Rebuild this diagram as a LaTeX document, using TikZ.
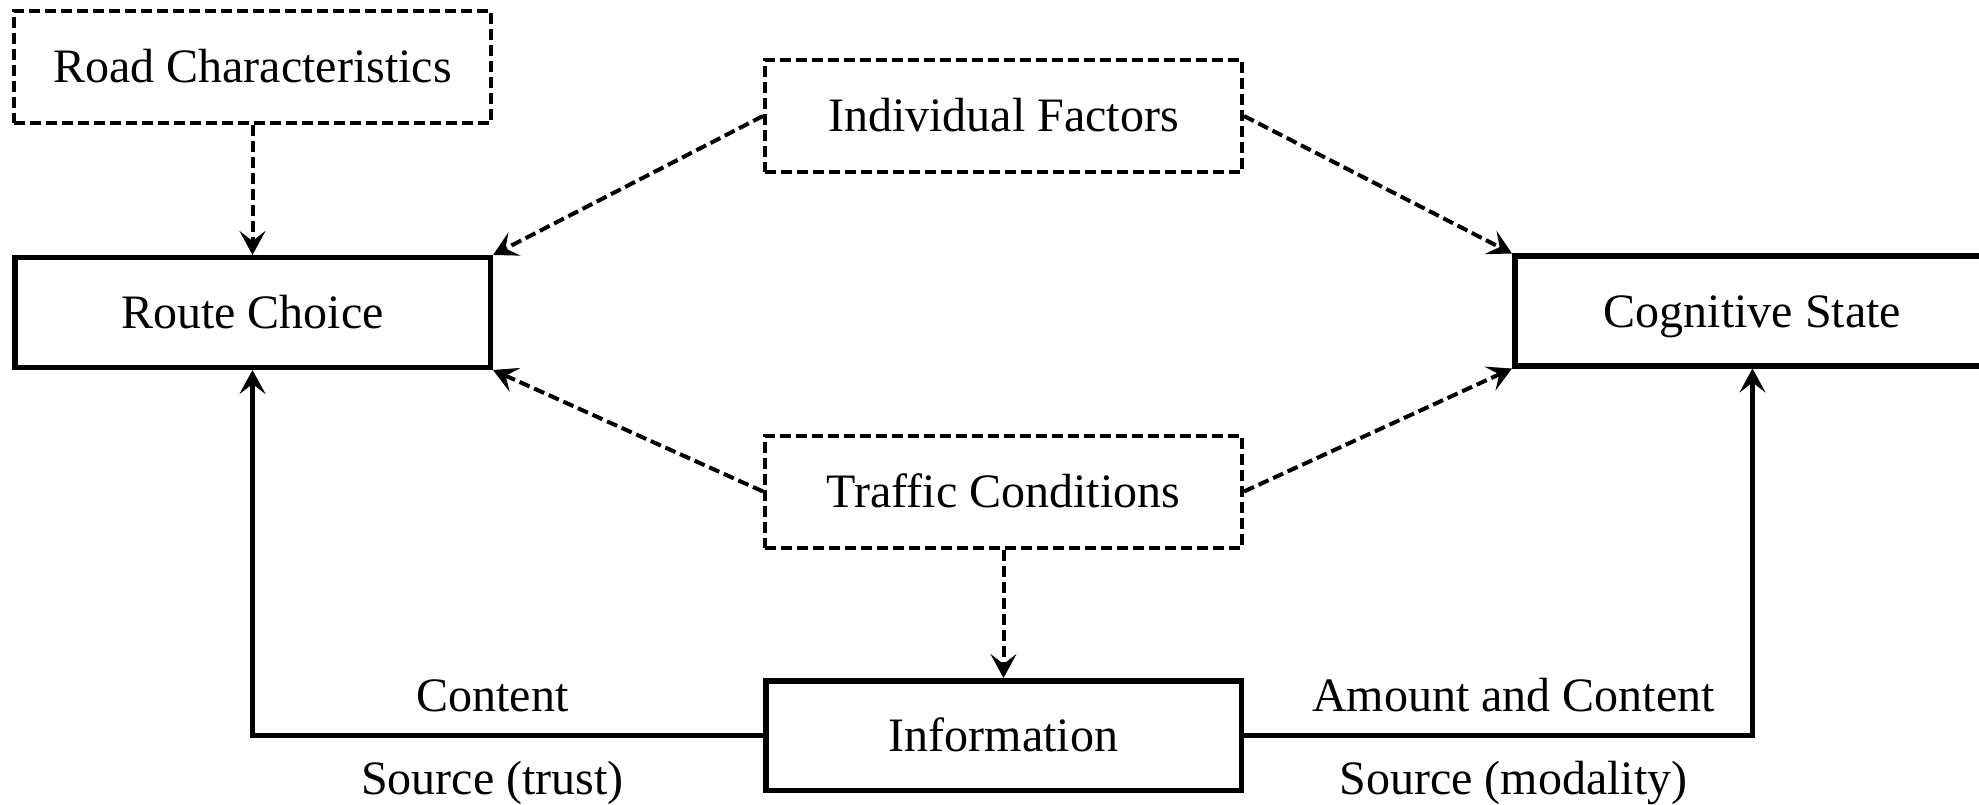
\documentclass[tikz,border=0pt]{standalone}
\usepackage{fontspec}
\setmainfont{Liberation Serif}
\usetikzlibrary{arrows.meta}
\begin{document}
\begin{tikzpicture}[x=1pt,y=-1pt,
  every node/.style={font=\fontsize{48}{56}\selectfont, text height=32pt, text depth=0pt, inner sep=0pt},
  solidbox/.style={draw, line width=5.5pt, minimum width=475.5pt, minimum height=109.5pt},
  dashbox/.style={draw, line width=4pt, dash pattern=on 11pt off 5pt, minimum width=477pt, minimum height=112pt},
  tip/.style={-{Stealth[length=24pt,width=26pt,inset=10pt]}},
  link/.style={tip, line width=5.5pt},
  dlink/.style={tip, line width=4pt, dash pattern=on 11pt off 5pt},
  lbl/.style={draw=none, fill=none}]
  \clip (0,0) rectangle (1979,805);

  % influencing factors (dashed)
  \node[dashbox] (road) at (252.5,67) {Road Characteristics};
  \node[dashbox] (indiv) at (1003.5,116) {Individual Factors};
  \node[dashbox] (traffic) at (1003.5,491.5) {Traffic Conditions};

  % main blocks (solid)
  \node[solidbox] (route) at (252.5,312.5) {Route Choice};
  \node[solidbox] (cog) at (1752.5,311) {Cognitive State};
  \node[solidbox] (info) at (1003.5,735.5) {Information};

  % dashed influences
  \draw[dlink] (road.south) -- (route.north);
  \draw[dlink] (indiv.west) -- (route.north east);
  \draw[dlink] (indiv.east) -- (cog.north west);
  \draw[dlink] (traffic.west) -- (route.south east);
  \draw[dlink] (traffic.east) -- (cog.south west);
  \draw[dlink] (traffic.south) -- (info.north);

  % information channels
  \draw[link] (info.west) -| (route.south)
    node[lbl, pos=0.265, yshift=40pt] (lcontent) {Content}
    node[lbl, pos=0.265, yshift=-43pt] (ltrust) {Source (trust)};
  \draw[link] (info.east) -| (cog.south)
    node[lbl, pos=0.265, yshift=40pt] (lamount) {Amount and Content}
    node[lbl, pos=0.265, yshift=-43pt] (lmodality) {Source (modality)};
\end{tikzpicture}
\end{document}
